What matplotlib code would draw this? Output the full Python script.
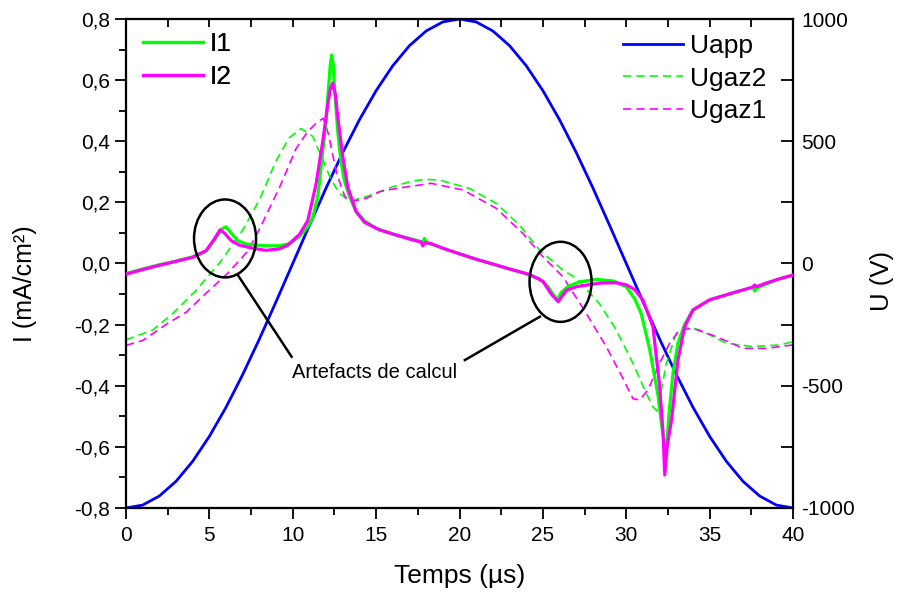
import matplotlib
matplotlib.use("Agg")
import matplotlib.pyplot as plt
from matplotlib.patches import Ellipse
from matplotlib.ticker import MultipleLocator, FuncFormatter

plt.rcParams["font.family"] = ["Liberation Sans", "DejaVu Sans"]

# Uapp (V), sampled every 1 us
tUapp = list(range(0, 41))
Uapp = [-1000, -988, -951, -891, -809, -707, -588, -454, -309, -156,
        0, 156, 309, 454, 588, 707, 809, 891, 951, 988,
        1000, 988, 951, 891, 809, 707, 588, 454, 309, 156,
        0, -156, -309, -454, -588, -707, -809, -891, -951, -988, -1000]

# I1 (mA/cm2)
tI1 = [0, 1, 2, 3, 4, 4.8, 5.4, 5.8, 6.0, 6.3, 6.7, 7.2, 7.8, 8.5, 9.2, 9.8,
       10.4, 10.9, 11.2, 11.5, 11.75, 12.0, 12.15, 12.25, 12.33, 12.42, 12.5,
       12.7, 12.9, 13.1, 13.4, 13.8, 14.3, 15.0, 16.0, 17.0, 17.8, 17.9, 18.0,
       19, 20, 21, 22, 23, 24, 24.8, 25.3, 25.6, 25.86, 26.1, 26.5, 27.2, 28.2,
       29.2, 30.0, 30.5, 30.9, 31.4, 31.9, 32.15, 32.28, 32.36, 32.45, 32.55,
       32.8, 33.1, 33.5, 34.0, 35.0, 36.4, 37.6, 37.7, 37.85, 38.5, 39.2, 40]
I1 = [-0.033, -0.018, -0.004, 0.008, 0.022, 0.04, 0.085, 0.115, 0.12, 0.1,
      0.075, 0.064, 0.06, 0.058, 0.058, 0.065, 0.088, 0.12, 0.15, 0.22, 0.34,
      0.47, 0.58, 0.65, 0.682, 0.655, 0.58, 0.43, 0.33, 0.27, 0.22, 0.17,
      0.14, 0.115, 0.097, 0.082, 0.07, 0.082, 0.069, 0.05, 0.032, 0.014,
      -0.002, -0.018, -0.033, -0.05, -0.075, -0.1, -0.119, -0.095, -0.075,
      -0.06, -0.052, -0.057, -0.076, -0.115, -0.165, -0.28, -0.43, -0.54,
      -0.585, -0.6, -0.575, -0.5, -0.36, -0.26, -0.2, -0.152, -0.119, -0.096,
      -0.078, -0.09, -0.08, -0.065, -0.05, -0.038]

# I2 (mA/cm2)
tI2 = [0, 1, 2, 3, 4, 4.8, 5.3, 5.64, 5.9, 6.3, 6.8, 7.6, 8.4, 9.2, 9.7, 10.4,
       10.9, 11.4, 11.8, 12.1, 12.25, 12.39, 12.55, 12.7, 13.0, 13.3, 13.8,
       14.3, 15.2, 16.2, 17.0, 17.7, 17.8, 17.95, 18.3, 19, 20.2, 21, 22.2,
       23, 24.2, 25.0, 25.5, 25.92, 26.4, 27.0, 28.4, 29.4, 30.0, 30.5, 31.0,
       31.6, 32.0, 32.2, 32.31, 32.45, 32.72, 33.1, 33.5, 34.0, 35.0, 36.4,
       37.6, 37.7, 37.8, 38.5, 39.2, 40]
I2 = [-0.035, -0.02, -0.006, 0.007, 0.02, 0.042, 0.08, 0.11, 0.1, 0.075, 0.06,
      0.05, 0.043, 0.048, 0.06, 0.095, 0.14, 0.26, 0.4, 0.52, 0.57, 0.59,
      0.555, 0.48, 0.35, 0.25, 0.17, 0.135, 0.11, 0.093, 0.08, 0.07, 0.058,
      0.068, 0.065, 0.05, 0.028, 0.014, -0.005, -0.018, -0.036, -0.058, -0.1,
      -0.125, -0.088, -0.076, -0.064, -0.063, -0.07, -0.085, -0.12, -0.207,
      -0.4, -0.55, -0.692, -0.6, -0.51, -0.316, -0.207, -0.152, -0.119,
      -0.096, -0.077, -0.07, -0.076, -0.062, -0.05, -0.038]

# Ugaz2 (V)
tUg2 = [0, 0.5, 1.6, 2.8, 4.2, 5.7, 7.0, 8.0, 9.0, 9.8, 10.5, 11.2, 11.8, 12.3,
        12.8, 13.4, 14.4, 16.0, 17.2, 18.0, 18.8, 20.6, 22.2, 23.6, 24.8,
        26.2, 27.0, 28.4, 29.4, 30.4, 31.2, 31.6, 31.85, 32.1, 32.4, 33.0,
        33.6, 34.4, 36.0, 37.6, 39.2, 40]
Ugaz2 = [-312, -300, -272, -205, -110, 10, 137, 260, 420, 515, 552, 520, 425,
         342, 288, 255, 273, 314, 338, 344, 341, 307, 246, 157, 55, -27, -60,
         -165, -272, -408, -531, -586, -603, -520, -408, -285, -261, -272,
         -326, -340, -333, -320]

# Ugaz1 (V)
tUg1 = [0, 1.0, 2.5, 3.6, 4.7, 6.1, 7.3, 8.0, 9.2, 10.2, 10.9, 11.5, 11.83,
        12.13, 12.63, 13.13, 13.53, 14.43, 15.23, 16.03, 18.3, 20.2, 22.2,
        23.8, 25.0, 26.2, 27.6, 28.8, 29.8, 30.4, 30.8, 31.3, 32.0, 32.6, 33.2,
        34.0, 35.4, 37.0, 38.4, 40]
Ugaz1 = [-335, -315, -245, -200, -128, -40, 50, 140, 310, 470, 540, 580, 594,
         532, 369, 273, 253, 267, 294, 305, 328, 301, 226, 123, 28, -54, -204,
         -340, -470, -553, -558, -517, -408, -326, -272, -265, -299, -347,
         -347, -333]

green = "#00ff00"
magenta = "#ff00ff"
blue = "#0000ff"


def comma(v, pos):
    s = f"{v:.1f}".replace(".", ",")
    return "0,0" if s == "-0,0" else s


fig = plt.figure(figsize=(8.98, 5.92), dpi=100)
ax = fig.add_axes([0.1403, 0.1419, 0.7428, 0.8260])
ax2 = ax.twinx()
axt = ax.twiny()

# solid currents (left axis)
l1, = ax.plot(tI1, I1, color=green, lw=2.3, label="I1", zorder=4)
l2, = ax.plot(tI2, I2, color=magenta, lw=2.3, label="I2", zorder=5)

# voltages (right axis)
u0, = ax2.plot(tUapp, Uapp, color=blue, lw=2.0, label="Uapp")
u2, = ax2.plot(tUg2, Ugaz2, color=green, lw=1.2, ls=(0, (5, 3)), label="Ugaz2")
u1, = ax2.plot(tUg1, Ugaz1, color=magenta, lw=1.2, ls=(0, (5, 3)), label="Ugaz1")

ax.set_xlim(0, 40)
ax.set_ylim(-0.8, 0.8)
ax2.set_ylim(-1000, 1000)
axt.set_xlim(0, 40)

ax.xaxis.set_major_locator(MultipleLocator(5))
ax.xaxis.set_minor_locator(MultipleLocator(2.5))
ax.yaxis.set_major_locator(MultipleLocator(0.2))
ax.yaxis.set_minor_locator(MultipleLocator(0.1))
ax.yaxis.set_major_formatter(FuncFormatter(comma))
ax.xaxis.set_major_formatter(FuncFormatter(lambda v, p: f"{v:.0f}"))
ax.tick_params(axis="both", which="major", direction="out", length=8, width=1.3,
               labelsize=15)
ax.tick_params(axis="both", which="minor", direction="out", length=5, width=1.3)
ax.tick_params(axis="x", labelsize=15, pad=5)
ax.tick_params(axis="y", right=False)

ax2.yaxis.set_major_locator(MultipleLocator(500))
ax2.yaxis.set_minor_locator(MultipleLocator(250))
ax2.yaxis.set_major_formatter(FuncFormatter(lambda v, p: f"{v:.0f}"))
ax2.tick_params(axis="y", which="major", direction="in", length=9, width=1.3,
                labelsize=15, pad=6)
ax2.tick_params(axis="y", which="minor", direction="in", length=9, width=1.3)

axt.xaxis.set_major_locator(MultipleLocator(2.5))
axt.tick_params(axis="x", which="major", direction="in", length=6, width=1.3,
                labeltop=False)

for a in (ax, ax2, axt):
    for sp in a.spines.values():
        sp.set_linewidth(1.5)

ax.set_xlabel("Temps (µs)", fontsize=19, labelpad=14)
ax.set_ylabel("I (mA/cm²)", fontsize=18)
ax.yaxis.set_label_coords(-0.133, 0.459)
ax2.set_ylabel("U (V)", fontsize=18.5, rotation=90)
ax2.yaxis.set_label_coords(1.115, 0.464)

# annotations
ax.add_patch(Ellipse((5.94, 0.082), 3.72, 0.255, fill=False, ec="black",
                     lw=1.8, zorder=6))
ax.add_patch(Ellipse((26.06, -0.06), 3.72, 0.262, fill=False, ec="black",
                     lw=1.8, zorder=6))
ax.plot([6.71, 9.93], [-0.038, -0.305], color="black", lw=1.8, zorder=6)
ax.plot([24.82, 20.32], [-0.174, -0.316], color="black", lw=1.8, zorder=6)
ax.text(9.95, -0.358, "Artefacts de calcul", fontsize=14.5, ha="left",
        va="center", zorder=7)

leg1 = ax.legend(handles=[l1, l2], loc="upper left", frameon=False,
                 fontsize=19, handlelength=2.27, handletextpad=0.27,
                 labelspacing=0.36, borderpad=0, borderaxespad=0,
                 bbox_to_anchor=(143 / 898, 1 - 32 / 592),
                 bbox_transform=fig.transFigure)
ax.add_artist(leg1)
ax2.legend(handles=[u0, u2, u1], loc="upper left", frameon=False,
           fontsize=19, handlelength=2.27, handletextpad=0.27,
           labelspacing=0.33, borderpad=0, borderaxespad=0,
           bbox_to_anchor=(623 / 898, 1 - 34 / 592),
           bbox_transform=fig.transFigure)

ax.set_zorder(ax2.get_zorder() + 1)
ax.patch.set_visible(False)

fig.savefig("out.png", dpi=100)
